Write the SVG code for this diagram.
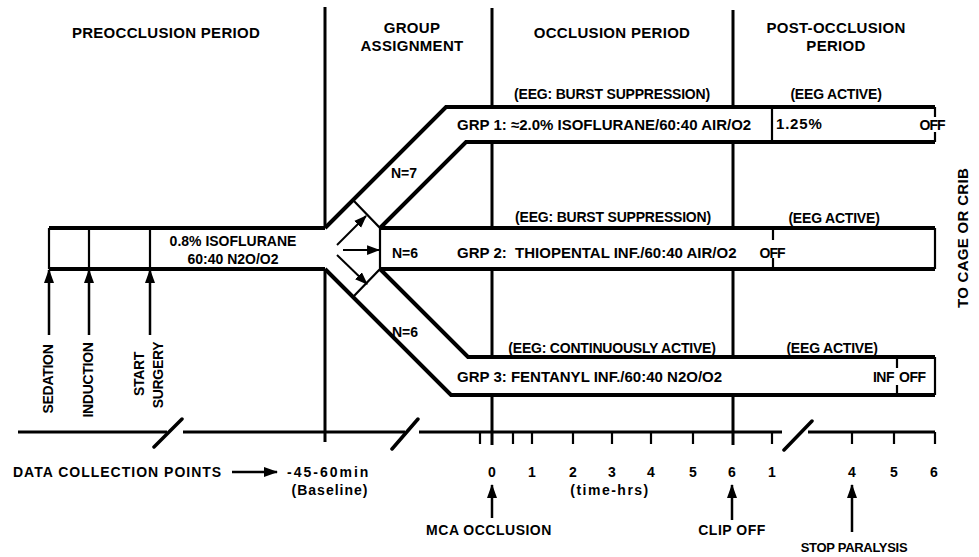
<svg xmlns="http://www.w3.org/2000/svg" width="979" height="557" viewBox="0 0 979 557">
<style>
text{font-family:"Liberation Sans",Arial,Helvetica,sans-serif;font-weight:bold;fill:#000}
.h{font-size:15px;letter-spacing:0.3px;text-anchor:middle}
.e{font-size:14px;text-anchor:middle;letter-spacing:-0.2px}
.g{font-size:15px}
.s{font-size:14px}
.n{font-size:14px;text-anchor:middle}
.r{font-size:14px;text-anchor:middle;letter-spacing:-0.3px}
.ln{stroke:#000;fill:none;stroke-width:3}
.thk{stroke:#000;fill:none;stroke-width:4}
.thn{stroke:#000;fill:none;stroke-width:2.2}
.ar{stroke:#000;fill:none;stroke-width:2.5;marker-end:url(#ah)}
.as{stroke:#000;fill:none;stroke-width:2;marker-end:url(#ahs)}
</style>
<defs>
<marker id="ah" viewBox="0 0 14 10" refX="13" refY="5" markerWidth="14" markerHeight="11" markerUnits="userSpaceOnUse" orient="auto"><path d="M0,0 L14,5 L0,10 z" fill="#000"/></marker>
<marker id="ahs" viewBox="0 0 12 9" refX="11" refY="4.5" markerWidth="13" markerHeight="10" markerUnits="userSpaceOnUse" orient="auto"><path d="M0,0 L12,4.5 L0,9 z" fill="#000"/></marker>
</defs>
<rect width="979" height="557" fill="#fff"/>

<g id="headers">
<text class="h" x="166" y="38">PREOCCLUSION PERIOD</text>
<text class="h" x="412" y="33">GROUP</text>
<text class="h" x="412" y="51">ASSIGNMENT</text>
<text class="h" x="612" y="38">OCCLUSION PERIOD</text>
<text class="h" x="836" y="33">POST-OCCLUSION</text>
<text class="h" x="836" y="51">PERIOD</text>
</g>

<g id="dividers">
<path class="ln" d="M325 7 V442"/>
<path class="ln" d="M492 8 V445"/>
<path class="ln" d="M733 10 V445"/>
</g>

<g id="preocclusion-bar">
<rect x="49" y="228" width="276" height="41" fill="#fff"/>
<path class="thk" d="M49 228 H325 M49 269 H325"/>
<path class="thn" d="M49 228 V269 M89 228 V269 M150 228 V269"/>
<text class="s" x="233" y="246" text-anchor="middle">0.8% ISOFLURANE</text>
<text class="s" x="233" y="264" text-anchor="middle">60:40  N2O/O2</text>
</g>

<g id="group-assignment">
<polygon fill="#fff" points="325,228 446,107 935,107 935,142 466,142 380,228 935,228 935,269 380,269 468,357 935,357 935,395 451,395 325,269"/>
<path class="thn" d="M353 200 L380 228 V269 L353 297"/>
<text class="n" x="404" y="178">N=7</text>
<text class="n" x="405" y="258">N=6</text>
<text class="n" x="405" y="337">N=6</text>
</g>

<g id="grp1">
<path class="thk" d="M325 228 L446 107 H935"/>
<path class="thk" d="M380 228 L466 142 H935"/>
<path class="thn" d="M935 107 V117 M935 132 V142 M772 107 V142"/>
<text class="g" x="457" y="130">GRP 1: ≈2.0% ISOFLURANE/60:40 AIR/O2</text>
<text class="g" x="776" y="129" letter-spacing="0.8">1.25%</text>
<text class="s" x="932" y="130" text-anchor="middle" letter-spacing="-1">OFF</text>
<text class="e" x="612" y="99">(EEG: BURST SUPPRESSION)</text>
<text class="e" x="836" y="99">(EEG ACTIVE)</text>
</g>

<g id="grp2">
<path class="thk" d="M380 228 H935 M380 269 H935"/>
<path class="thn" d="M935 228 V269 M773 228 V240 M773 258 V269"/>
<text class="g" x="457" y="258">GRP 2:&#160; THIOPENTAL INF./60:40 AIR/O2</text>
<text class="s" x="772" y="258" text-anchor="middle" letter-spacing="-1">OFF</text>
<text class="e" x="613" y="222">(EEG: BURST SUPPRESSION)</text>
<text class="e" x="834" y="223">(EEG ACTIVE)</text>
</g>

<g id="grp3">
<path class="thk" d="M380 269 L468 357 H935"/>
<path class="thk" d="M325 269 L451 395 H935"/>
<path class="thn" d="M935 357 V395 M897 357 V368 M897 385 V395"/>
<text class="g" x="457" y="382">GRP 3: FENTANYL INF./60:40 N2O/O2</text>
<text class="s" x="894" y="382" text-anchor="end" letter-spacing="-0.5">INF</text>
<text class="s" x="899" y="382" letter-spacing="-0.5">OFF</text>
<text class="e" x="612" y="353" letter-spacing="-0.4">(EEG: CONTINUOUSLY ACTIVE)</text>
<text class="e" x="832" y="353">(EEG ACTIVE)</text>
</g>

<g id="events">
<text class="r" transform="translate(53 379) rotate(-90)">SEDATION</text>
<text class="r" transform="translate(93 380) rotate(-90)">INDUCTION</text>
<text class="r" font-size="13" transform="translate(144 374) rotate(-90)">START</text>
<text class="r" font-size="13" transform="translate(163 375) rotate(-90)">SURGERY</text>
<text class="h" font-size="14" letter-spacing="1.4" transform="translate(968 238) rotate(-90)">TO CAGE OR CRIB</text>
</g>

<g id="time-axis">
<path stroke="#000" stroke-width="3" fill="none" d="M18 432 H167 M183 432 H405 M419 432 H782 M808 432 H935"/>
<path stroke="#000" stroke-width="3.5" stroke-linecap="round" fill="none" d="M154 447 L182 419 M392 449 L418 419 M784 450 L812 421"/>
<path class="thn" stroke-width="2.5" d="M480 432 V444 M513 432 V444 M532 432 V444 M573 432 V444 M612 432 V444 M651 432 V444 M693 432 V444 M772 432 V444 M852 432 V444 M894 432 V444 M935 432 V444"/>
<text class="n" x="492" y="477">0</text>
<text class="n" x="532" y="477">1</text>
<text class="n" x="573" y="477">2</text>
<text class="n" x="612" y="477">3</text>
<text class="n" x="651" y="477">4</text>
<text class="n" x="693" y="477">5</text>
<text class="n" x="732" y="477">6</text>
<text class="n" x="772" y="477">1</text>
<text class="n" x="852" y="477">4</text>
<text class="n" x="894" y="477">5</text>
<text class="n" x="934" y="477">6</text>
<text class="n" x="610" y="495" letter-spacing="1.5">(time-hrs)</text>
<text class="s" x="13" y="477" letter-spacing="1">DATA COLLECTION POINTS</text>
<text class="s" x="287" y="477" letter-spacing="2">-45-60min</text>
<text class="n" x="330" y="495" letter-spacing="1">(Baseline)</text>
<text class="n" x="489" y="535" letter-spacing="0.5">MCA OCCLUSION</text>
<text class="n" x="732" y="535" letter-spacing="0.5">CLIP  OFF</text>
<text x="854" y="552" font-size="13" font-weight="normal" text-anchor="middle" letter-spacing="-0.3">STOP PARALYSIS</text>
</g>

<g id="connectors">
<path class="ar" d="M49 335 V270"/>
<path class="ar" d="M89 335 V270"/>
<path class="ar" d="M150 335 V270"/>
<path class="as" d="M337 245 L366 216"/>
<path class="as" d="M343 250 H379"/>
<path class="as" d="M337 255 L367 284"/>
<path class="ar" d="M232 472 H277"/>
<path class="ar" d="M492 518 V485"/>
<path class="ar" d="M732 520 V485"/>
<path class="ar" d="M852 532 V485"/>
</g>
</svg>
